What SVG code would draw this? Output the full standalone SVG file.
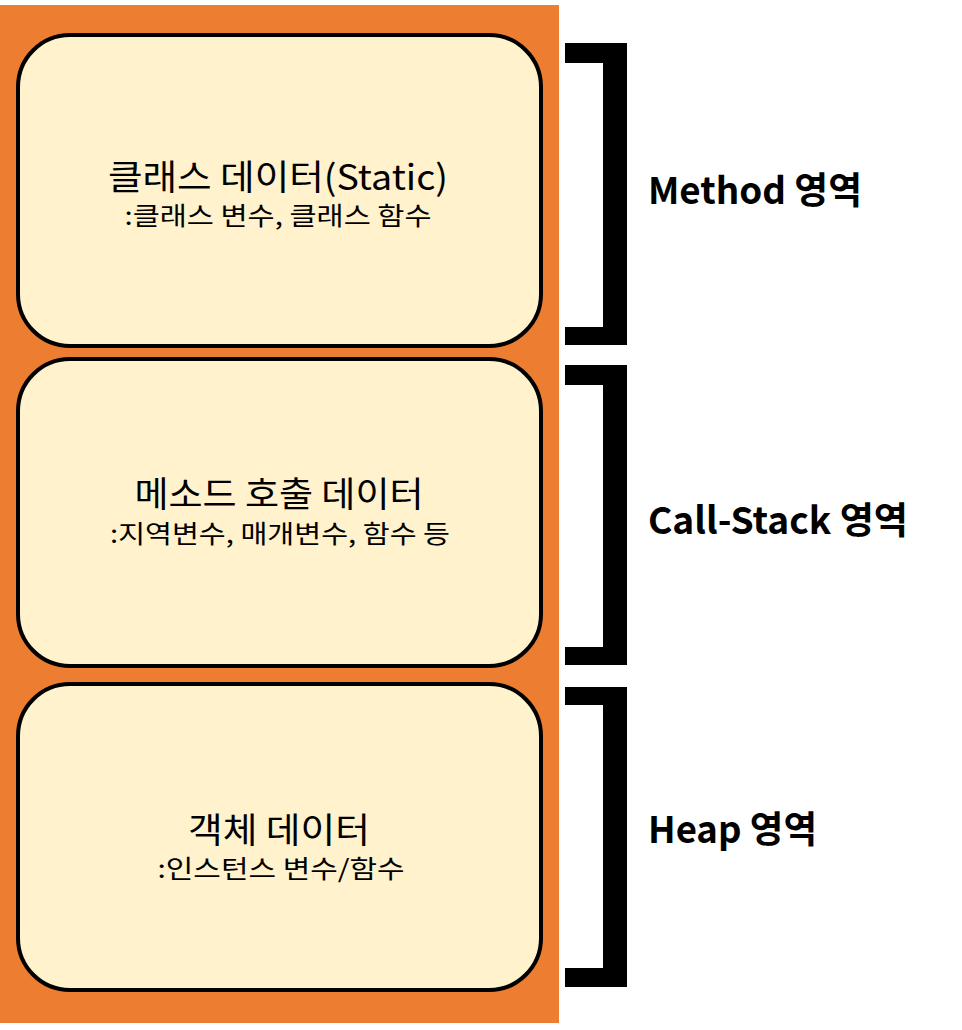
<svg xmlns="http://www.w3.org/2000/svg" width="962" height="1030" viewBox="0 0 962 1030">
<style>
.box{fill:#FFF2CC;stroke:#000;stroke-width:4}
.t{font-family:"Noto Sans CJK KR","Noto Sans",sans-serif;fill:#000;text-anchor:middle}
.title{font-size:35px}
.sub{font-size:25px}
.lab{font-family:"Noto Sans CJK KR","Noto Sans",sans-serif;font-size:37px;font-weight:bold;fill:#000}
.br{fill:#000}
</style>
<rect x="0" y="0" width="962" height="1030" fill="#fff"/>
<rect x="0" y="5" width="559" height="1018" fill="#ED7D31"/>
<g id="node-method">
<rect class="box" x="18" y="35" width="523" height="311" rx="52" ry="52"/>
<text class="t title" x="278" y="190" textLength="340" lengthAdjust="spacingAndGlyphs">클래스 데이터(Static)</text>
<text class="t sub" x="278" y="225" textLength="307" lengthAdjust="spacingAndGlyphs">:클래스 변수, 클래스 함수</text>
</g>
<g id="node-callstack">
<rect class="box" x="18" y="359" width="523" height="307" rx="52" ry="52"/>
<text class="t title" x="279" y="507" textLength="289" lengthAdjust="spacingAndGlyphs">메소드 호출 데이터</text>
<text class="t sub" x="280" y="543" textLength="340" lengthAdjust="spacingAndGlyphs">:지역변수, 매개변수, 함수 등</text>
</g>
<g id="node-heap">
<rect class="box" x="18" y="684" width="523" height="306" rx="52" ry="52"/>
<text class="t title" x="279" y="843" textLength="182" lengthAdjust="spacingAndGlyphs">객체 데이터</text>
<text class="t sub" x="281" y="878" textLength="247" lengthAdjust="spacingAndGlyphs">:인스턴스 변수/함수</text>
</g>
<g id="connectors">
<path class="br" d="M565,43 H627 V345 H565 V327 H603 V63 H565 Z"/>
<path class="br" d="M565,365 H627 V665 H565 V647 H603 V385 H565 Z"/>
<path class="br" d="M565,687 H627 V987 H565 V968 H603 V705 H565 Z"/>
</g>
<g id="labels">
<text class="lab" x="648" y="204" textLength="214" lengthAdjust="spacingAndGlyphs">Method 영역</text>
<text class="lab" x="648" y="534" textLength="260" lengthAdjust="spacingAndGlyphs">Call-Stack 영역</text>
<text class="lab" x="648" y="843" textLength="169" lengthAdjust="spacingAndGlyphs">Heap 영역</text>
</g>
</svg>
